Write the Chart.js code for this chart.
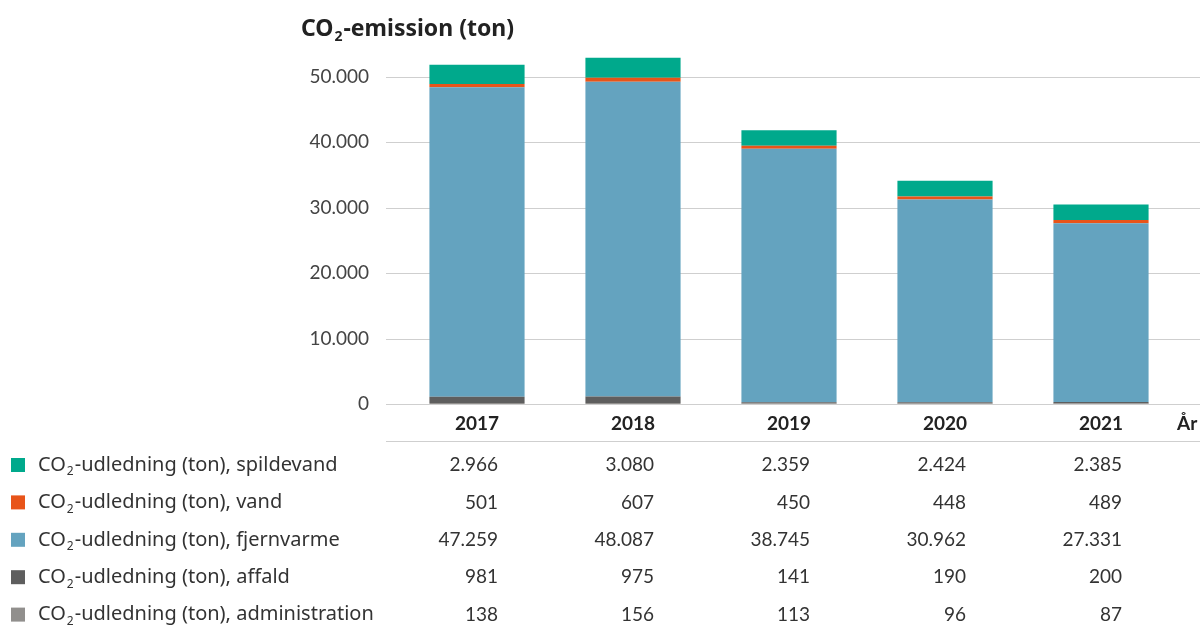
<!DOCTYPE html>
<html>
<head>
<meta charset="utf-8">
<script src="https://cdn.jsdelivr.net/npm/chart.js@4"></script>
<style>
  body { margin: 0; background: #fff; }
  canvas { display: block; }
</style>
</head>
<body>
<canvas id="chart" width="1200" height="628"></canvas>
<script>
const years = ['2017', '2018', '2019', '2020', '2021'];
const spildevand = [2966, 3080, 2359, 2424, 2385];
const vand = [501, 607, 450, 448, 489];
const fjernvarme = [47259, 48087, 38745, 30962, 27331];
const affald = [981, 975, 141, 190, 200];
const administration = [138, 156, 113, 96, 87];
const yTicks = [0, 10000, 20000, 30000, 40000, 50000];

const NUM_FONT = 'Lato, "Noto Sans", sans-serif';
const TXT_FONT = '"Noto Sans", Lato, sans-serif';

// legend / table rows, top to bottom
const rows = [
  { name: 'spildevand', data: spildevand, color: '#00a98c' },
  { name: 'vand', data: vand, color: '#e85419' },
  { name: 'fjernvarme', data: fjernvarme, color: '#64a3bf' },
  { name: 'affald', data: affald, color: '#5e5e5e' },
  { name: 'administration', data: administration, color: '#918f8d' }
];

const fmt = n => String(n).replace(/\B(?=(\d{3})+(?!\d))/g, '.');

// draws "CO" + subscript 2 + rest
function drawCO2(ctx, rest, x, y, size, weight, color) {
  ctx.fillStyle = color;
  ctx.textAlign = 'left';
  ctx.textBaseline = 'middle';
  ctx.font = weight + ' ' + size + 'px ' + TXT_FONT;
  ctx.fillText('CO', x, y);
  x += ctx.measureText('CO').width;
  ctx.font = weight + ' ' + Math.round(size * 0.6) + 'px ' + TXT_FONT;
  ctx.fillText('2', x + 1, y + size * 0.35);
  x += ctx.measureText('2').width + 2;
  ctx.font = weight + ' ' + size + 'px ' + TXT_FONT;
  ctx.fillText(rest, x, y);
}

const decor = {
  id: 'decor',
  beforeDatasetsDraw(chart) {
    const { ctx, scales: { y } } = chart;
    ctx.save();
    ctx.strokeStyle = '#cfcfcf';
    ctx.lineWidth = 1;
    yTicks.forEach(v => {
      const py = Math.round(y.getPixelForValue(v)) + 0.5;
      ctx.beginPath();
      ctx.moveTo(386, py);
      ctx.lineTo(1200, py);
      ctx.stroke();
    });
    ctx.beginPath();
    ctx.moveTo(386, 441.5);
    ctx.lineTo(1200, 441.5);
    ctx.stroke();
    ctx.restore();
  },
  afterDraw(chart) {
    const { ctx, scales: { x, y } } = chart;
    ctx.save();

    // title
    drawCO2(ctx, '-emission (ton)', 301, 29, 23, 'bold', '#222');

    // y tick labels
    ctx.font = '19px ' + NUM_FONT;
    ctx.fillStyle = '#444';
    ctx.textAlign = 'right';
    ctx.textBaseline = 'middle';
    yTicks.forEach(v => ctx.fillText(fmt(v), 369, y.getPixelForValue(v)));

    // year labels
    ctx.font = 'bold 19px ' + NUM_FONT;
    ctx.fillStyle = '#222';
    ctx.textAlign = 'center';
    years.forEach((yr, i) => ctx.fillText(yr, x.getPixelForValue(i), 424));
    ctx.textAlign = 'left';
    ctx.fillText('År', 1177, 424);

    // legend + table
    rows.forEach((r, k) => {
      const ry = 465 + k * 37.4;
      ctx.fillStyle = r.color;
      ctx.fillRect(11, ry - 7, 14, 14);
      drawCO2(ctx, '-udledning (ton), ' + r.name, 38, ry, 20, 'normal', '#333');
      ctx.font = '19px ' + NUM_FONT;
      ctx.fillStyle = '#333';
      ctx.textAlign = 'right';
      r.data.forEach((v, i) => ctx.fillText(fmt(v), x.getPixelForValue(i) + 21, ry));
    });
    ctx.restore();
  }
};

const stackOrder = rows.slice().reverse();

new Chart(document.getElementById('chart'), {
  type: 'bar',
  data: {
    labels: years,
    datasets: stackOrder.map(r => ({
      label: r.name,
      data: r.data,
      backgroundColor: r.color,
      borderWidth: 0,
      categoryPercentage: 1,
      barPercentage: 0.61
    }))
  },
  options: {
    responsive: false,
    animation: false,
    layout: { padding: { left: 399, right: 21, top: 44, bottom: 224 } },
    plugins: {
      legend: { display: false },
      tooltip: { enabled: false }
    },
    scales: {
      x: { stacked: true, display: false },
      y: { stacked: true, display: false, min: 0, max: 55000 }
    }
  },
  plugins: [decor]
});
</script>
</body>
</html>
